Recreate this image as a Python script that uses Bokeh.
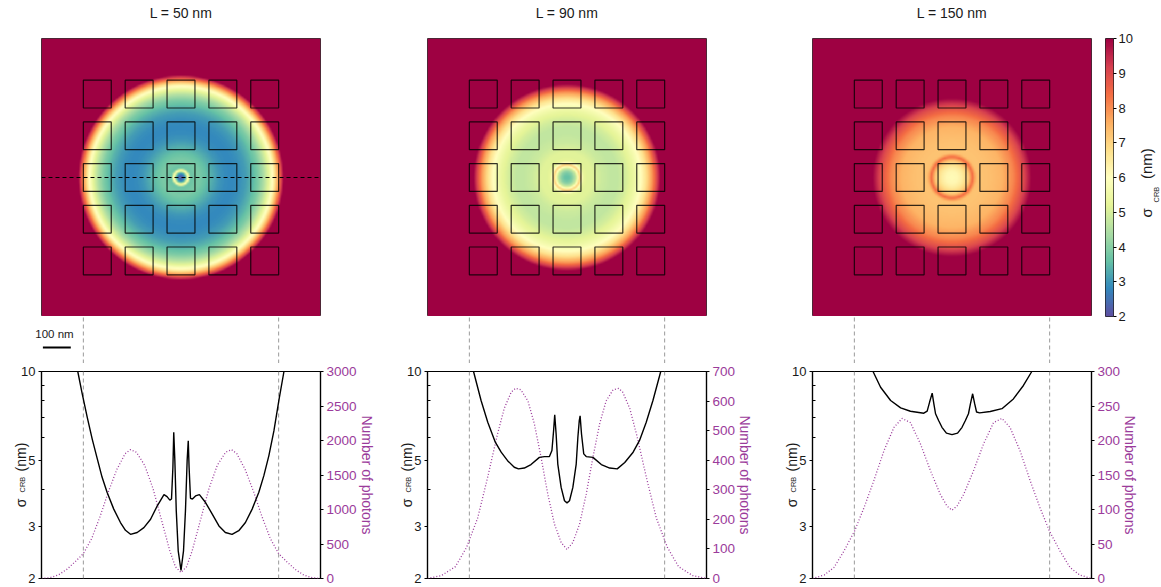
import numpy as np
from bokeh.plotting import figure
from bokeh.models import (Range1d, LinearAxis, LogAxis, FixedTicker, LinearColorMapper,
                          Label, NumeralTickFormatter, LinearScale)
from bokeh.layouts import row, column
from bokeh.embed import file_html
from bokeh.resources import INLINE

# ---------------- data ----------------
titles = ["L = 50 nm", "L = 90 nm", "L = 150 nm"]

# sigma_CRB cross-section along the dashed line (x in nm, sigma in nm)
x_L50 = [-430, -370, -354, -336, -318, -300, -283, -265, -241, -217, -199, -181, -157, -133, -109, -85,
         -61, -50, -40, -34, -29, -26, -22, -17, -10, 0, 9, 16, 22, 26, 29, 34, 41, 52, 66, 88, 112,
         136, 159, 183, 207, 231, 255, 279, 297, 315, 333, 351, 369, 430]
sig_L50 = [14.0, 10.0, 8.4, 7.0, 5.9, 5.07, 4.4, 3.91, 3.43, 3.09, 2.91, 2.82, 2.86, 2.97, 3.17, 3.52,
           3.84, 3.78, 3.68, 3.71, 4.75, 6.23, 5.0, 3.39, 2.48, 2.13, 2.48, 3.39, 5.0, 5.84, 4.75, 3.73,
           3.71, 3.80, 3.84, 3.61, 3.30, 3.01, 2.86, 2.82, 2.90, 3.09, 3.43, 3.91, 4.45, 5.2, 6.3, 8.0,
           10.0, 14.0]

x_L90 = [-400, -335, -308, -284, -257, -236, -213, -189, -174, -153, -129, -99, -81, -63, -54, -48, -44,
         -39, -33, -21, -9, 0, 9, 21, 33, 39, 44, 47, 52, 60, 69, 93, 123, 153, 180, 207, 237, 260, 284,
         308, 336, 400]
sig_L90 = [14.0, 10.0, 7.98, 6.74, 5.77, 5.34, 5.0, 4.75, 4.69, 4.72, 4.85, 5.13, 5.16, 5.16, 5.41, 6.32,
           7.14, 6.15, 4.87, 4.06, 3.66, 3.60, 3.66, 4.06, 4.87, 6.0, 6.83, 7.08, 6.15, 5.27, 5.16, 5.13,
           4.85, 4.72, 4.69, 4.93, 5.34, 5.85, 6.74, 7.98, 10.0, 14.0]

x_L150 = [-340, -283, -256, -220, -184, -149, -101, -89, -80, -71, -65, -59, -48, -36, -20, 0, 20, 36, 48,
          59, 66, 74, 81, 88, 99, 137, 179, 220, 256, 286, 340]
sig_L150 = [13.0, 10.0, 8.85, 7.98, 7.54, 7.34, 7.23, 7.35, 7.9, 8.45, 7.78, 7.2, 6.83, 6.48, 6.19, 6.12,
            6.19, 6.48, 6.83, 7.2, 7.78, 8.41, 7.8, 7.3, 7.25, 7.33, 7.49, 8.08, 8.97, 10.0, 13.0]

# number of photons along the same line
xph_L50 = [-500, -470, -440, -410, -380, -350, -320, -290, -260, -230, -200, -181, -160, -130, -100, -70,
           -40, -20, 0, 20, 40, 70, 100, 130, 160, 181, 200, 230, 260, 290, 320, 350, 380, 410, 440, 470, 500]
ph_L50 = [0, 12, 50, 130, 240, 360, 580, 900, 1260, 1580, 1810, 1868, 1830, 1640, 1300, 850, 400, 170, 87,
          170, 400, 850, 1300, 1640, 1830, 1868, 1810, 1580, 1260, 900, 580, 360, 240, 130, 50, 12, 0]

xph_L90 = [-500, -450, -400, -360, -320, -285, -250, -225, -200, -185, -165, -140, -117, -93, -69, -45, -21,
           0, 21, 45, 69, 93, 117, 140, 165, 185, 200, 225, 250, 285, 320, 360, 400, 450, 500]
ph_L90 = [0, 10, 40, 105, 205, 340, 485, 575, 630, 643, 638, 600, 523, 410, 286, 184, 122, 98, 122, 184,
          286, 410, 523, 600, 638, 643, 630, 575, 485, 340, 205, 105, 40, 10, 0]

xph_L150 = [-500, -458, -423, -387, -349, -315, -280, -244, -208, -179, -149, -113, -77, -42, -18, 0, 18, 42,
            77, 113, 149, 179, 208, 244, 280, 315, 349, 387, 423, 458, 500]
ph_L150 = [0, 5, 16, 40, 69, 103, 142, 185, 219, 232, 226, 195, 156, 122, 105, 99, 105, 122, 156, 195, 226,
           232, 219, 185, 142, 103, 69, 40, 16, 5, 0]

ph_ticks_L50 = [0, 500, 1000, 1500, 2000, 2500, 3000]
ph_ticks_L90 = [0, 100, 200, 300, 400, 500, 600, 700]
ph_ticks_L150 = [0, 50, 100, 150, 200, 250, 300]

sig_ticks = [2, 3, 5, 10]
sig_minor = [4, 6, 7, 8, 9]
cbar_ticks = [2, 3, 4, 5, 6, 7, 8, 9, 10]
square_centers = [-300, -150, 0, 150, 300]
guide_x = [-350, 350]
scale_bar_x = [-495, -395]

panels = [
    (x_L50, sig_L50, xph_L50, ph_L50, ph_ticks_L50),
    (x_L90, sig_L90, xph_L90, ph_L90, ph_ticks_L90),
    (x_L150, sig_L150, xph_L150, ph_L150, ph_ticks_L150),
]

# ---------------- style ----------------
FONT = "Liberation Sans"
INK = "#1a1a1a"
PURPLE = "#9b3b9b"
NB = "\u00a0"
spectral = ["#5e4fa2", "#3288bd", "#66c2a5", "#abdda4", "#e6f598", "#ffffbf",
            "#fee08b", "#fdae61", "#f46d43", "#d53e4f", "#9e0142"]


def _rgb(h):
    return [int(h[i:i + 2], 16) for i in (1, 3, 5)]


anch = np.array([_rgb(c) for c in spectral], dtype=float)
t_anch = np.linspace(0, 1, len(spectral))
t_pal = np.linspace(0, 1, 256)
palette = ["#%02x%02x%02x" % tuple(int(round(np.interp(t, t_anch, anch[:, k]))) for k in range(3))
           for t in t_pal]
mapper = LinearColorMapper(palette=palette, low=2, high=10)

FRAME_W = 279
borders = [(41, 65), (42, 64), (42, 70)]   # (left, right) borders per column
TOP_H, CON_H, BOT_H = 316, 47, 224


def side_label(p, side, text, x, y, size, angle=0.0, align="left"):
    p.add_layout(Label(x=x, y=y, x_units="screen", y_units="screen", text=text, angle=angle,
                       text_font=FONT, text_font_size=size, text_baseline="middle",
                       text_align=align, text_color=INK), side)


g = np.linspace(-500, 500, 401)
GX, GY = np.meshgrid(g, g)
R = np.hypot(GX, GY)
cols = []

for i, (xs, ss, xp, ph, pht) in enumerate(panels):
    bl, br = borders[i]
    top_br = 7 if i == 2 else br
    top_w = bl + FRAME_W + top_br
    w = bl + FRAME_W + br

    # ---- heat map ----
    t = figure(width=top_w, height=TOP_H, x_range=Range1d(-500, 500), y_range=Range1d(-500, 500),
               output_backend="svg", toolbar_location=None, x_axis_location=None, y_axis_location=None,
               min_border_left=bl, min_border_right=top_br, min_border_top=38, min_border_bottom=0)
    t.grid.visible = False
    t.outline_line_color = "#333333"
    t.outline_line_width = 1
    side_label(t, "above", titles[i], FRAME_W / 2, 26, "14px", align="center")
    xa = np.array(xs, dtype=float)
    sa = np.array(ss, dtype=float)
    pos = xa >= 0
    field = np.interp(R, xa[pos], sa[pos])
    t.image(image=[field], x=-500, y=-500, dw=1000, dh=1000, color_mapper=mapper)
    sqx, sqy = np.meshgrid(square_centers, square_centers)
    t.rect(x=sqx.ravel(), y=sqy.ravel(), width=100, height=100, fill_color=None,
           line_color="black", line_alpha=0.8, line_width=1.2)
    if i == 0:
        t.segment(x0=[-500], y0=[0], x1=[500], y1=[0], line_color="black", line_dash="4 3", line_width=1.2)

    # ---- connector (guide lines, scale bar) ----
    c = figure(width=top_w, height=CON_H, x_range=t.x_range, y_range=Range1d(0, 1),
               output_backend="svg", toolbar_location=None, x_axis_location=None, y_axis_location=None,
               min_border_left=bl, min_border_right=top_br, min_border_top=0, min_border_bottom=0)
    c.grid.visible = False
    c.outline_line_color = None
    c.segment(x0=guide_x, y0=[0, 0], x1=guide_x, y1=[1, 1], line_color="#9a9a9a",
              line_dash="4 3", line_width=1)
    if i == 0:
        c.segment(x0=[scale_bar_x[0]], y0=[0.34], x1=[scale_bar_x[1]], y1=[0.34],
                  line_color="black", line_width=2)
        side_label(c, "left", "100 nm", 51, 30, "11.5px", align="center")

    # ---- line plot ----
    b = figure(width=w, height=BOT_H, x_range=t.x_range, y_range=Range1d(2, 10), y_axis_type="log",
               output_backend="svg", toolbar_location=None, x_axis_location=None, y_axis_location=None,
               min_border_left=bl, min_border_right=br, min_border_top=8, min_border_bottom=9)
    b.grid.visible = False
    b.outline_line_color = "black"
    b.outline_line_width = 1.2
    b.extra_y_ranges = {"ph": Range1d(0, pht[-1])}
    b.extra_y_scales = {"ph": LinearScale()}
    la = LogAxis(ticker=FixedTicker(ticks=sig_ticks, minor_ticks=sig_minor),
                 formatter=NumeralTickFormatter(format="0"),
                 axis_label="σ" + NB * 7 + "(nm)")
    la.major_tick_out = 3
    la.major_tick_in = 0
    la.minor_tick_out = 0
    la.minor_tick_in = 3
    la.major_label_standoff = 3
    la.major_label_text_font = FONT
    la.major_label_text_font_size = "13px"
    la.major_label_text_color = INK
    la.axis_label_text_font = FONT
    la.axis_label_text_font_size = "14px"
    la.axis_label_text_font_style = "normal"
    la.axis_label_text_color = INK
    la.axis_label_standoff = -11
    la.axis_line_width = 1.2
    b.add_layout(la, "left")
    side_label(b, "left", "CRB", 21, 86, "7.5px", angle=np.pi / 2)
    ra = LinearAxis(y_range_name="ph", ticker=FixedTicker(ticks=pht), axis_label="Number of photons")
    ra.major_tick_out = 3
    ra.major_tick_in = 0
    ra.minor_tick_out = 0
    ra.minor_tick_in = 0
    ra.major_label_standoff = 3
    ra.major_label_text_font = FONT
    ra.major_label_text_font_size = "13.5px"
    ra.major_label_text_color = PURPLE
    ra.axis_label_text_font = FONT
    ra.axis_label_text_font_size = "14px"
    ra.axis_label_text_font_style = "normal"
    ra.axis_label_text_color = PURPLE
    ra.axis_label_standoff = -1
    ra.axis_line_width = 1.2
    b.add_layout(ra, "right")
    b.segment(x0=guide_x, y0=[2, 2], x1=guide_x, y1=[10, 10], line_color="#9a9a9a",
              line_dash="4 3", line_width=1)
    b.line(xp, ph, y_range_name="ph", line_color=PURPLE, line_dash="1 2", line_width=1.3)
    b.line(xs, ss, line_color="black", line_width=1.4)

    if i < 2:
        cols.append(column(t, c, b))
    else:
        # ---- colour bar ----
        cb = figure(width=63, height=TOP_H + 8, x_range=Range1d(0, 1), y_range=Range1d(2, 10),
                    output_backend="svg", toolbar_location=None, x_axis_location=None,
                    y_axis_location=None,
                    min_border_left=7, min_border_right=47, min_border_top=38, min_border_bottom=8)
        cb.grid.visible = False
        cb.outline_line_color = "#222222"
        ramp = np.linspace(2, 10, 256).reshape(-1, 1)
        cb.image(image=[ramp], x=0, y=2, dw=1, dh=8, color_mapper=mapper)
        ca = LinearAxis(ticker=FixedTicker(ticks=cbar_ticks))
        ca.major_tick_out = 3
        ca.major_tick_in = 0
        ca.minor_tick_out = 0
        ca.minor_tick_in = 0
        ca.major_label_standoff = 2
        ca.major_label_text_font = FONT
        ca.major_label_text_font_size = "13px"
        ca.major_label_text_color = INK
        ca.axis_line_color = None
        cb.add_layout(ca, "right")
        side_label(cb, "right", "σ" + NB * 7 + "(nm)", 11, 99, "15px", angle=np.pi / 2)
        side_label(cb, "right", "CRB", 3.5, 114, "7.5px", angle=np.pi / 2)
        cols.append(column(row(column(t, c), cb), b))

layout = row(*cols)
open("out.html", "w").write(file_html(layout, INLINE))
